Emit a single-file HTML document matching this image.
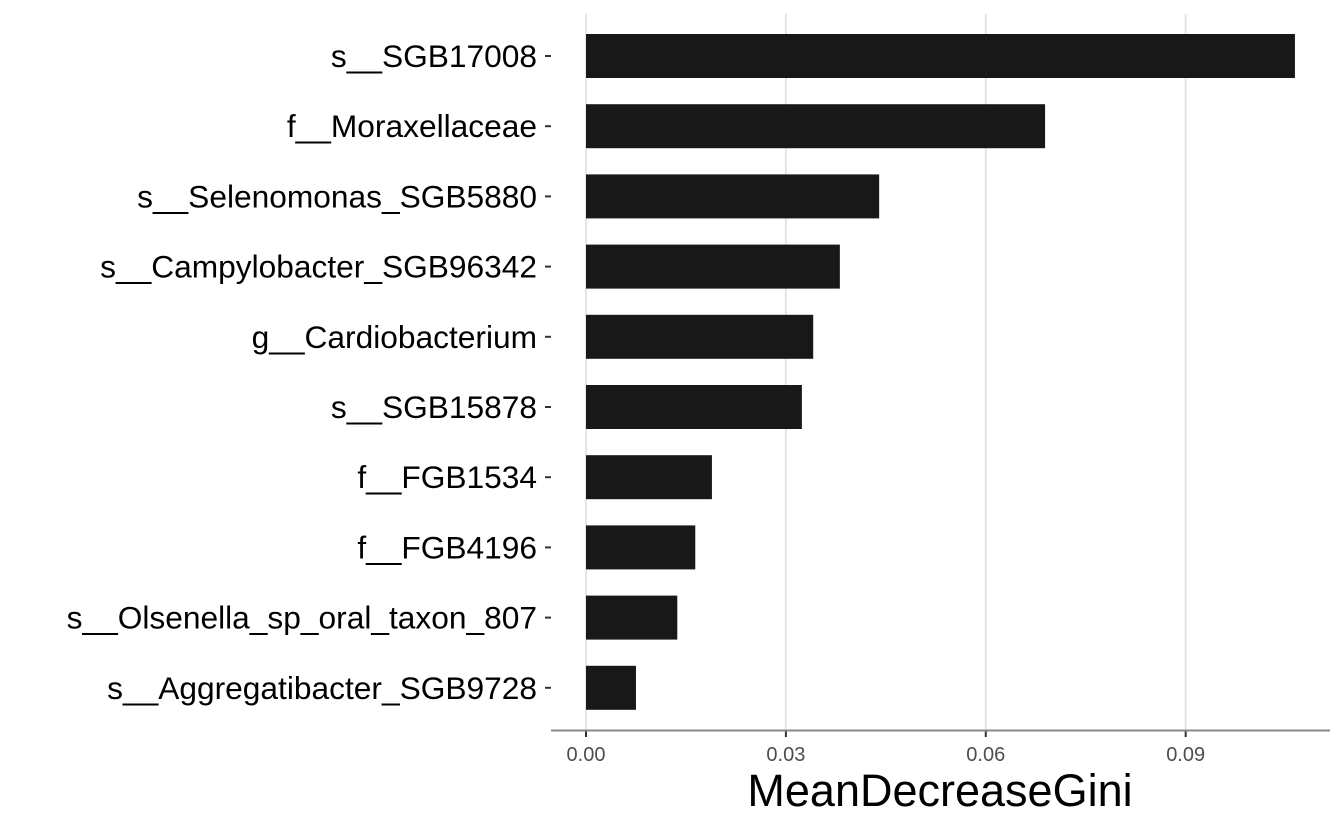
<!DOCTYPE html>
<html><head><meta charset="utf-8"><style>
body{margin:0;background:#fff;}
svg{display:block;font-family:"Liberation Sans",Arial,sans-serif;}
</style></head><body>
<svg id="chart" width="1344" height="830"></svg>
<script>
const categories=["s__SGB17008","f__Moraxellaceae","s__Selenomonas_SGB5880","s__Campylobacter_SGB96342","g__Cardiobacterium","s__SGB15878","f__FGB1534","f__FGB4196","s__Olsenella_sp_oral_taxon_807","s__Aggregatibacter_SGB9728"];
const values=[0.1064,0.0689,0.0440,0.0381,0.0341,0.0324,0.0189,0.0164,0.0137,0.0075];
const ticks=[0,0.03,0.06,0.09];
const tickLabels=["0.00","0.03","0.06","0.09"];
const NS="http://www.w3.org/2000/svg";
const svg=document.getElementById('chart');
const x=v=>586+v*6663;
const y=i=>56+i*70.2;
function mk(t,a,txt){const e=document.createElementNS(NS,t);for(const k in a)e.setAttribute(k,a[k]);if(txt!=null)e.textContent=txt;svg.appendChild(e);return e;}
ticks.forEach((t,i)=>{
 let g=mk('line',{x1:x(t),x2:x(t),y1:14,y2:730,stroke:'#e5e5e5','stroke-width':2});
 
 
 let tk=mk('line',{x1:x(t),x2:x(t),y1:730,y2:737,stroke:'#333','stroke-width':2});
 
 
 let l=mk('text',{x:x(t),y:761,'text-anchor':'middle','font-size':20,fill:'#4d4d4d'},tickLabels[i]);
 
 
});
categories.forEach((c,i)=>{
 let b=mk('rect',{x:x(0),y:y(i)-22,width:x(values[i])-x(0),height:44,fill:'#181818'});
 
 
 let tk=mk('line',{x1:545,x2:551,y1:y(i),y2:y(i),stroke:'#333','stroke-width':2});
 
 
 let l=mk('text',{x:537,y:y(i)+11,'text-anchor':'end','font-size':31.7,fill:'#000'},c);
 
 
});
let ax=mk('line',{x1:551,x2:1330,y1:730.5,y2:730.5,stroke:'#888','stroke-width':2});


let tt=mk('text',{x:940,y:806,'text-anchor':'middle','font-size':45,fill:'#000'},'MeanDecreaseGini');


</script>
</body></html>
